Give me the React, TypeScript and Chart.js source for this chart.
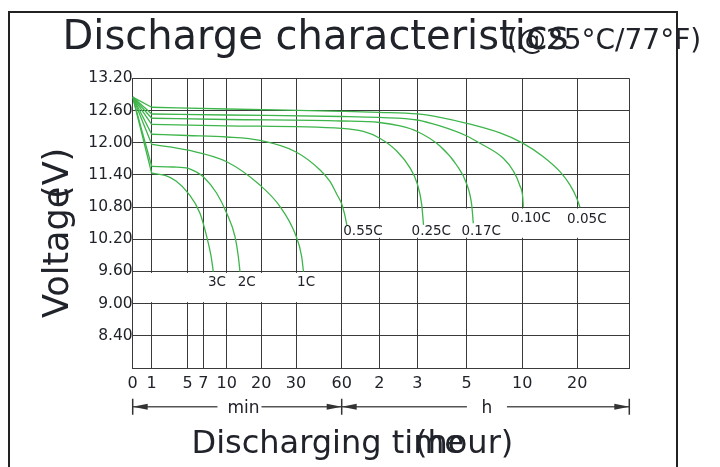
import React, { useEffect, useRef } from 'react';
import { Chart, LinearScale, registerables } from 'chart.js';

Chart.register(...registerables);

// ---------------- data ----------------
const rates = ['0.05C', '0.10C', '0.17C', '0.25C', '0.55C', '1C', '2C', '3C'];
const startVoltage = 12.85; // common starting voltage at t = 0

// discharge curves: time in minutes, voltage in volts
const minutes005 = [1, 10, 60, 120, 180, 235, 300, 480, 597, 829, 1011, 1120, 1193, 1231];
const volts005 = [12.66, 12.628, 12.585, 12.566, 12.535, 12.473, 12.361, 12.181, 12.0, 11.739, 11.46, 11.212, 10.97, 10.796];

const minutes010 = [1, 10, 60, 120, 180, 235, 300, 372, 497.5, 551.5, 587.6, 605.5, 610.9];
const volts010 = [12.535, 12.516, 12.488, 12.47, 12.423, 12.311, 12.125, 11.989, 11.709, 11.473, 11.193, 10.97, 10.807];

const minutes017 = [1, 10, 60, 120, 152.7, 180, 235, 275.3, 300, 327, 335.6];
const volts017 = [12.455, 12.432, 12.404, 12.376, 12.311, 12.209, 11.938, 11.584, 11.23, 10.839, 10.498];

const minutes025 = [1, 10, 60, 94.5, 120, 147.5, 168.5, 180, 190.7, 195.1];
const volts025 = [12.343, 12.315, 12.268, 12.209, 12.088, 11.845, 11.529, 11.231, 10.845, 10.467];

const minutes055 = [1, 5, 10, 19.7, 30, 45.8, 52.3, 56.7, 60, 64.5, 68.5];
const volts055 = [12.157, 12.134, 12.106, 12.041, 11.827, 11.492, 11.277, 11.044, 10.858, 10.672, 10.448];

const minutes1C = [1, 5.1, 10, 19.6, 25.4, 29.7, 33.7, 34.9];
const volts1C = [11.97, 11.86, 11.645, 11.21, 10.81, 10.31, 9.88, 9.596];

const minutes2C = [1, 3.38, 5.1, 6.06, 7.0, 8.72, 10, 12.4, 13.41, 13.84];
const volts2C = [11.557, 11.547, 11.523, 11.458, 11.366, 11.057, 10.684, 10.248, 9.851, 9.596];

const minutes3C = [1, 2.49, 3.72, 5.1, 6.58, 7.44, 7.99, 8.28];
const volts3C = [11.43, 11.389, 11.286, 11.057, 10.684, 10.248, 9.889, 9.596];

const seriesMinutes = [minutes005, minutes010, minutes017, minutes025, minutes055, minutes1C, minutes2C, minutes3C];
const seriesVolts = [volts005, volts010, volts017, volts025, volts055, volts1C, volts2C, volts3C];

// curve label anchors (data units)
const labelMinutes = [1310, 693, 378, 214, 94, 36.6, 15.8, 8.76];
const labelVolts = [10.56, 10.58, 10.34, 10.34, 10.34, 9.4, 9.4, 9.4];

// x axis: non-uniform time axis (minutes, then hours)
const xTickMinutes = [0, 1, 5, 7, 10, 20, 30, 60, 120, 180, 300, 600, 1200, 1800];
const xTickLabels = ['0', '1', '5', '7', '10', '20', '30', '60', '2', '3', '5', '10', '20', ''];
const xTickFractions = [0, 0.03826, 0.11035, 0.14217, 0.18929, 0.25896, 0.32884, 0.42086, 0.49658, 0.5731, 0.67257, 0.78453, 0.89529, 1];

// y axis ticks
const yTickValues = [7.8, 8.4, 9.0, 9.6, 10.2, 10.8, 11.4, 12.0, 12.6, 13.2];

// white label panels (data units)
const panelFrom = [0, 60];
const panelTo = [60, 1800];
const panelTop = [9.6, 10.8];
const panelBottom = [9.0, 10.2];

// ---------------- helpers ----------------
function minutesToFraction(v: number): number {
  const n = xTickMinutes.length;
  if (v <= xTickMinutes[0]) return xTickFractions[0];
  for (let i = 1; i < n; i++) {
    if (v <= xTickMinutes[i]) {
      const a = xTickMinutes[i - 1];
      const b = xTickMinutes[i];
      const t = (v - a) / (b - a);
      return xTickFractions[i - 1] + t * (xTickFractions[i] - xTickFractions[i - 1]);
    }
  }
  return xTickFractions[n - 1];
}

function fractionToMinutes(f: number): number {
  const n = xTickFractions.length;
  if (f <= xTickFractions[0]) return xTickMinutes[0];
  for (let i = 1; i < n; i++) {
    if (f <= xTickFractions[i]) {
      const a = xTickFractions[i - 1];
      const b = xTickFractions[i];
      const t = (f - a) / (b - a);
      return xTickMinutes[i - 1] + t * (xTickMinutes[i] - xTickMinutes[i - 1]);
    }
  }
  return xTickMinutes[n - 1];
}

class TimeSegmentScale extends LinearScale {
  static id = 'timeSegments';
  buildTicks(): any {
    (this as any).start = this.min;
    (this as any).end = this.max;
    return xTickMinutes.map((value) => ({ value }));
  }
  getPixelForValue(value: number): number {
    return this.getPixelForDecimal(minutesToFraction(value));
  }
  getValueForPixel(pixel: number): number {
    return fractionToMinutes(this.getDecimalForPixel(pixel));
  }
}
Chart.register(TimeSegmentScale as any);

const FONT = '"DejaVu Sans", sans-serif';
const TEXT = '#20232a';
const GREEN = '#3db54a';
const GRID = '#3a3a3a';

function arrowHead(ctx: CanvasRenderingContext2D, tipX: number, y: number, dir: number) {
  const len = 15;
  ctx.beginPath();
  ctx.moveTo(tipX, y);
  ctx.lineTo(tipX - dir * len, y - 3);
  ctx.lineTo(tipX - dir * len, y + 3);
  ctx.closePath();
  ctx.fill();
}

const decorPlugin = {
  id: 'dischargeDecor',
  beforeDatasetsDraw(chart: any) {
    const { ctx, scales } = chart;
    const x = scales.x;
    const y = scales.y;
    ctx.save();
    ctx.fillStyle = '#ffffff';
    for (let i = 0; i < panelFrom.length; i++) {
      const x0 = x.getPixelForValue(panelFrom[i]) + 1.5;
      const x1 = x.getPixelForValue(panelTo[i]) - 1.5;
      const y0 = y.getPixelForValue(panelTop[i]) + 1.5;
      const y1 = y.getPixelForValue(panelBottom[i]) - 1.5;
      ctx.fillRect(x0, y0, x1 - x0, y1 - y0);
    }
    ctx.restore();
  },
  afterDatasetsDraw(chart: any) {
    const { ctx, scales } = chart;
    const x = scales.x;
    const y = scales.y;
    ctx.save();
    ctx.fillStyle = TEXT;
    ctx.font = `13.5px ${FONT}`;
    ctx.textAlign = 'center';
    ctx.textBaseline = 'middle';
    for (let i = 0; i < rates.length; i++) {
      ctx.fillText(rates[i], x.getPixelForValue(labelMinutes[i]), y.getPixelForValue(labelVolts[i]));
    }
    ctx.restore();
  },
  afterDraw(chart: any) {
    const { ctx, scales, chartArea } = chart;
    const x = scales.x;
    ctx.save();
    ctx.fillStyle = TEXT;
    ctx.textBaseline = 'alphabetic';
    ctx.textAlign = 'left';

    // titles
    ctx.font = `40px ${FONT}`;
    ctx.fillText('Discharge characteristics', 62.5, 49.3);
    ctx.font = `28px ${FONT}`;
    ctx.fillText('(@25°C/77°F)', 507, 49.3);

    // x title
    ctx.font = `32px ${FONT}`;
    ctx.fillText('Discharging time', 191.5, 453.3);
    ctx.fillText('(hour)', 415, 453.3);

    // y title
    ctx.save();
    ctx.translate(68, 318);
    ctx.rotate(-Math.PI / 2);
    ctx.font = `35px ${FONT}`;
    ctx.fillText('Voltage', 0, 0);
    ctx.fillText('(V)', 119, 0);
    ctx.restore();

    // min / h arrows
    const ay = chartArea.bottom + 38.7;
    const x0 = x.getPixelForValue(0);
    const x1 = x.getPixelForValue(60);
    const x2 = x.getPixelForValue(1800);
    const minC = x0 + 0.53 * (x1 - x0);
    const hC = x1 + 0.505 * (x2 - x1);
    ctx.strokeStyle = '#555';
    ctx.lineWidth = 1.5;
    ctx.beginPath();
    ctx.moveTo(x0, ay); ctx.lineTo(minC - 26, ay);
    ctx.moveTo(minC + 18, ay); ctx.lineTo(x1, ay);
    ctx.lineTo(hC - 20, ay);
    ctx.moveTo(hC + 20, ay); ctx.lineTo(x2, ay);
    ctx.stroke();
    ctx.strokeStyle = '#333';
    ctx.beginPath();
    for (const px of [x0, x1, x2]) {
      ctx.moveTo(px, ay - 8);
      ctx.lineTo(px, ay + 8);
    }
    ctx.stroke();
    ctx.fillStyle = '#333';
    arrowHead(ctx, x0, ay, -1);
    arrowHead(ctx, x1, ay, 1);
    arrowHead(ctx, x1, ay, -1);
    arrowHead(ctx, x2, ay, 1);
    ctx.fillStyle = TEXT;
    ctx.font = `17px ${FONT}`;
    ctx.textAlign = 'center';
    ctx.fillText('min', minC, ay + 6.5);
    ctx.fillText('h', hC, ay + 6.5);
    ctx.restore();
  },
};

export default function App() {
  const ref = useRef<HTMLCanvasElement | null>(null);

  useEffect(() => {
    if (!ref.current) return;
    const datasets: any[] = [];
    for (let i = 0; i < rates.length; i++) {
      const mins = seriesMinutes[i];
      const volts = seriesVolts[i];
      datasets.push({
        label: rates[i],
        data: mins.map((m, j) => ({ x: m, y: volts[j] })),
        borderColor: GREEN,
        borderWidth: 1.3,
        pointRadius: 0,
        fill: false,
        cubicInterpolationMode: 'monotone',
      });
      datasets.push({
        label: rates[i] + ' start',
        data: [
          { x: 0, y: startVoltage },
          { x: mins[0], y: volts[0] },
        ],
        borderColor: GREEN,
        borderWidth: 1.3,
        pointRadius: 0,
        fill: false,
        tension: 0,
      });
    }

    const chart = new Chart(ref.current, {
      type: 'line',
      data: { datasets },
      plugins: [decorPlugin],
      options: {
        responsive: false,
        animation: false,
        events: [],
        font: { family: FONT },
        layout: { padding: { left: 0, right: 90.7, top: 78.3, bottom: 0 } },
        plugins: {
          legend: { display: false },
          tooltip: { enabled: false },
          title: { display: false },
        },
        scales: {
          x: {
            type: 'timeSegments' as any,
            min: 0,
            max: 1800,
            afterFit: (s: any) => {
              s.height = 99;
            },
            grid: { color: GRID, lineWidth: 1, drawTicks: false },
            border: { display: true, color: GRID, width: 1 },
            ticks: {
              autoSkip: false,
              maxRotation: 0,
              minRotation: 0,
              padding: 6,
              color: TEXT,
              font: { family: FONT, size: 16 },
              callback: (_v: any, i: number) => xTickLabels[i],
            },
          },
          y: {
            type: 'linear',
            min: 7.8,
            max: 13.2,
            afterBuildTicks: (s: any) => {
              s.ticks = yTickValues.map((value) => ({ value }));
            },
            afterFit: (s: any) => {
              s.width = 132.7;
            },
            grid: { color: GRID, lineWidth: 1, drawTicks: false },
            border: { display: true, color: GRID, width: 1 },
            ticks: {
              padding: 0,
              color: TEXT,
              font: { family: FONT, size: 15.5 },
              callback: (v: any) => (Math.abs(Number(v) - 7.8) < 1e-6 ? '' : Number(v).toFixed(2)),
            },
          },
        },
      } as any,
    });
    return () => chart.destroy();
  }, []);

  return (
    <div style={{ position: 'fixed', left: 0, top: 0, width: 720, height: 467, overflow: 'hidden', background: '#fff' }}>
      <div
        style={{
          position: 'absolute',
          left: 8,
          top: 11,
          width: 670,
          height: 470,
          border: '2px solid #222',
          boxSizing: 'border-box',
        }}
      />
      <canvas ref={ref} width={720} height={467} style={{ position: 'absolute', left: 0, top: 0 }} />
    </div>
  );
}
